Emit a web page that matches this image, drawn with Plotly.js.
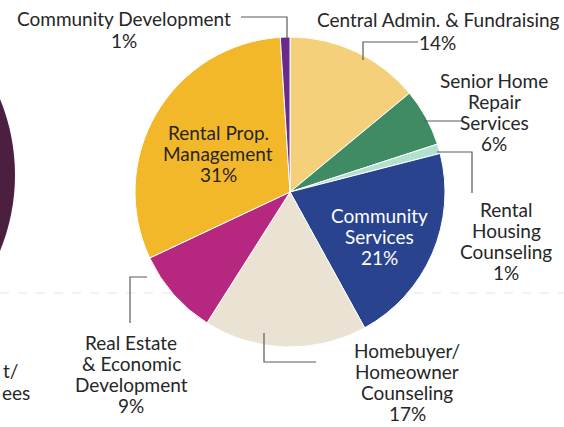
<!DOCTYPE html>
<html>
<head>
<meta charset="utf-8">
<script src="https://cdn.plot.ly/plotly-3.0.1.min.js"></script>
<style>html,body{margin:0;padding:0;background:#fff;}#chart{width:564px;height:427px;}</style>
</head>
<body>
<div id="chart"></div>
<script>
var categories = ["Central Admin. & Fundraising","Senior Home Repair Services","Rental Housing Counseling","Community Services","Homebuyer/ Homeowner Counseling","Real Estate & Economic Development","Rental Prop. Management","Community Development"];
var values = [14, 6, 1, 21, 17, 9, 31, 1];
var colors = ["#f5d07a","#3e8b64","#b2e0d0","#29438f","#eae2d2","#b6287f","#f3b72a","#6a2a8a"];
var labelLines = [
  ["Central Admin. & Fundraising"],
  ["Senior Home","Repair","Services"],
  ["Rental","Housing","Counseling"],
  ["Community","Services"],
  ["Homebuyer/","Homeowner","Counseling"],
  ["Real Estate","& Economic","Development"],
  ["Rental Prop.","Management"],
  ["Community Development"]
];

var W = 564, H = 427;
function px(x){return x/W;}
function py(y){return 1 - y/H;}
// pie geometry (pixels)
var cx = 290, cy = 192, r = 155;

var txt = "#262626";
var F = "Lato, 'Open Sans', sans-serif";
var FS = 19, LH = 21.3;
var annotations = [];
function line(text, x, y, color, anchor){
  annotations.push({text:text, x:px(x), y:py(y), xref:'paper', yref:'paper', showarrow:false,
    xanchor:anchor||'center', yanchor:'middle', font:{family:F, size:FS, color:color||txt}});
}
function block(i, x, y0, color){
  var ls = labelLines[i].concat([values[i] + "%"]);
  for(var k=0;k<ls.length;k++){ line(ls[k], x, y0 + k*LH, color); }
}

// Community Development
line(labelLines[7][0], 124, 18); line(values[7] + "%", 124, 40);
// Central Admin
line(labelLines[0][0], 438, 19); line(values[0] + "%", 437, 42);
block(1, 494, 80);
block(2, 506, 209);
block(3, 379, 215, "#ffffff");
block(6, 218, 132);
block(5, 131, 342);
block(4, 407, 350);
line("t/", 1, 370, txt, 'left');
line("ees", 0, 392, txt, 'left');

function path(pts){
  var d = "M" + px(pts[0][0]) + "," + py(pts[0][1]);
  for(var i=1;i<pts.length;i++){d += " L" + px(pts[i][0]) + "," + py(pts[i][1]);}
  return {type:'path', xref:'paper', yref:'paper', path:d, line:{color:'#5a5a5a', width:1.2}};
}
var shapes = [
  // partial neighbouring pie at left edge
  {type:'circle', xref:'paper', yref:'paper', x0:px(-385), x1:px(15), y0:py(375), y1:py(-25),
   fillcolor:'#4b1f40', line:{width:0}, layer:'below'},
  // faint fold line
  {type:'line', xref:'paper', yref:'paper', x0:0, x1:1, y0:py(293), y1:py(293),
   line:{color:'#eeeeee', width:1.5, dash:'dash'}, layer:'below'},
  path([[241,17],[287,17],[287,38]]),
  path([[363,60],[363,42],[418,42]]),
  path([[424,121],[463,121]]),
  path([[437,152],[472,152],[472,193]]),
  path([[147,277],[130,277],[130,323]]),
  path([[264,333],[264,362],[316,362]])
];

var data = [{
  type:'pie',
  labels:categories,
  values:values,
  sort:false,
  direction:'clockwise',
  rotation:0,
  marker:{colors:colors, line:{color:'#ffffff', width:1}},
  textinfo:'none',
  hoverinfo:'label+percent',
  showlegend:false,
  domain:{x:[px(cx-r), px(cx+r)], y:[py(cy+r), py(cy-r)]}
}];

var layout = {
  width:W, height:H,
  margin:{l:0,r:0,t:0,b:0},
  paper_bgcolor:'#ffffff',
  showlegend:false,
  annotations:annotations,
  shapes:shapes
};
Plotly.newPlot('chart', data, layout, {displayModeBar:false, staticPlot:true});
</script>
</body>
</html>
